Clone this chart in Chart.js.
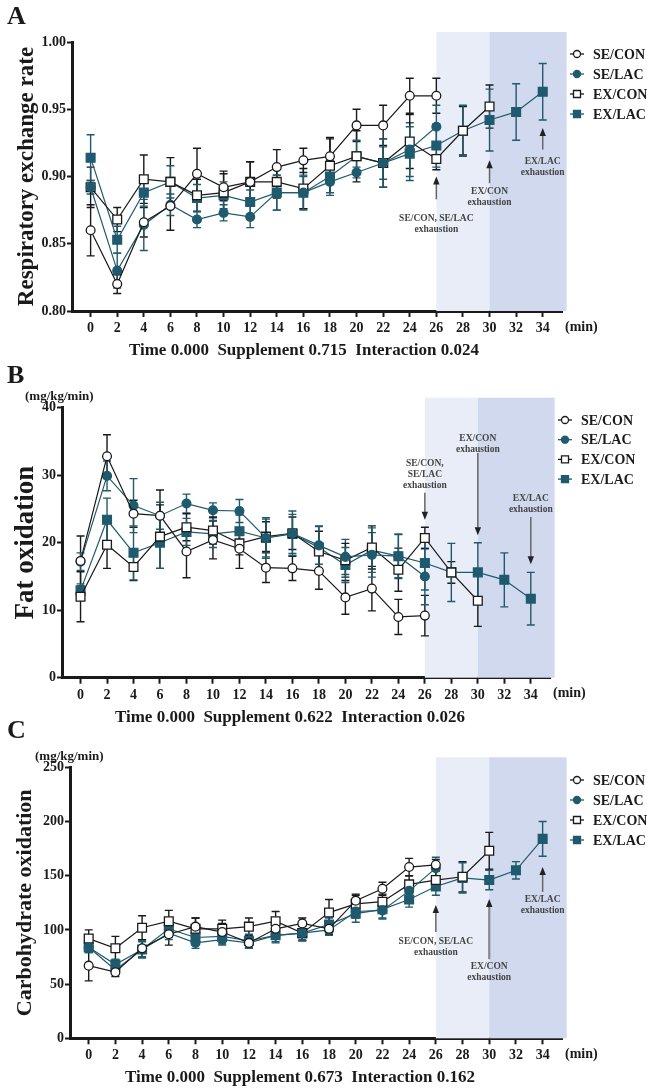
<!DOCTYPE html>
<html>
<head>
<meta charset="utf-8">
<script src="https://cdn.jsdelivr.net/npm/chart.js@4.4.0/dist/chart.umd.min.js"></script>
<style>
  body { margin: 0; background: #fff; width: 647px; height: 1089px; position: relative; overflow: hidden;
         font-family: "Liberation Serif", "Times New Roman", serif; font-weight: bold; color: #1a1a1a; }
  .box { position: absolute; left: 0; width: 647px; }
  .txt { position: absolute; white-space: pre; line-height: 1; }
  .foot { position: absolute; width: 500px; text-align: center; white-space: pre; line-height: 1; font-size: 17px; }
</style>
</head>
<body>
<div class="box" style="top:0;height:340px"><canvas id="chartA" width="647" height="340"></canvas></div>
<div class="box" style="top:340px;height:370px"><canvas id="chartB" width="647" height="370"></canvas></div>
<div class="box" style="top:710px;height:379px"><canvas id="chartC" width="647" height="379"></canvas></div>

<div class="txt" style="left:7px;top:3px;font-size:26px">A</div>
<div class="txt" style="left:7px;top:362px;font-size:26px">B</div>
<div class="txt" style="left:7px;top:717px;font-size:26px">C</div>
<div class="txt" style="left:25px;top:389px;font-size:13px">(mg/kg/min)</div>
<div class="txt" style="left:35px;top:749px;font-size:13px">(mg/kg/min)</div>
<div class="foot" style="left:54px;top:341px">Time 0.000  Supplement 0.715  Interaction 0.024</div>
<div class="foot" style="left:40px;top:708px">Time 0.000  Supplement 0.622  Interaction 0.026</div>
<div class="foot" style="left:50px;top:1068px">Time 0.000  Supplement 0.673  Interaction 0.162</div>

<script>
// time points (min)
var minutes = [0, 2, 4, 6, 8, 10, 12, 14, 16, 18, 20, 22, 24, 26, 28, 30, 32, 34];
var groups = ['SE/CON', 'SE/LAC', 'EX/CON', 'EX/LAC'];

// A - respiratory exchange rate (mean, SE)
var rerTicks = [0.80, 0.85, 0.90, 0.95, 1.00];
var rerSeCon = [0.860, 0.820, 0.866, 0.878, 0.902, 0.892, 0.896, 0.907, 0.912, 0.915, 0.938, 0.938, 0.960, 0.960];
var rerSeConErr = [0.019, 0.007, 0.011, 0.018, 0.019, 0.010, 0.015, 0.013, 0.009, 0.014, 0.012, 0.015, 0.013, 0.013];
var rerSeLac = [0.892, 0.830, 0.864, 0.879, 0.868, 0.873, 0.870, 0.888, 0.888, 0.896, 0.903, 0.910, 0.920, 0.937];
var rerSeLacErr = [0.005, 0.013, 0.019, 0.008, 0.006, 0.006, 0.008, 0.013, 0.012, 0.010, 0.004, 0.012, 0.020, 0.016];
var rerExCon = [0.892, 0.868, 0.898, 0.896, 0.886, 0.888, 0.896, 0.896, 0.891, 0.908, 0.915, 0.910, 0.926, 0.913, 0.934, 0.952];
var rerExConErr = [0.015, 0.009, 0.018, 0.018, 0.012, 0.016, 0.015, 0.012, 0.015, 0.020, 0.019, 0.018, 0.020, 0.008, 0.018, 0.016];
var rerExLac = [0.914, 0.853, 0.888, 0.896, 0.884, 0.886, 0.881, 0.888, 0.888, 0.900, 0.915, 0.910, 0.917, 0.923, 0.934, 0.942, 0.948, 0.963];
var rerExLacErr = [0.017, 0.010, 0.010, 0.012, 0.010, 0.010, 0.009, 0.013, 0.013, 0.012, 0.012, 0.018, 0.020, 0.016, 0.019, 0.023, 0.021, 0.021];

// B - fat oxidation (mg/kg/min)
var fatTicks = [0, 10, 20, 30, 40];
var fatSeCon = [17.3, 32.8, 24.3, 24.0, 18.7, 20.4, 19.1, 16.3, 16.2, 15.8, 11.9, 13.2, 9.0, 9.2];
var fatSeConErr = [3.7, 3.2, 2.0, 3.8, 3.9, 2.8, 2.9, 2.2, 1.8, 2.7, 2.5, 3.3, 2.6, 3.0];
var fatSeLac = [17.2, 29.9, 25.5, 24.0, 25.8, 24.8, 24.7, 20.7, 21.4, 19.6, 17.9, 18.2, 18.0, 15.0];
var fatSeLacErr = [1.3, 2.2, 4.0, 2.0, 1.4, 1.1, 1.7, 3.0, 3.3, 2.8, 2.6, 3.3, 3.3, 4.2];
var fatExCon = [12.0, 19.7, 16.4, 20.9, 22.3, 21.8, 19.9, 20.9, 21.4, 18.7, 17.4, 19.3, 16.0, 20.7, 15.6, 11.4];
var fatExConErr = [3.7, 3.5, 2.0, 4.7, 2.0, 2.0, 1.7, 2.2, 2.4, 3.0, 2.5, 3.2, 3.2, 1.6, 1.6, 3.8];
var fatExLac = [12.9, 23.4, 18.5, 20.0, 21.6, 21.3, 21.7, 20.7, 21.3, 19.3, 16.7, 18.9, 18.0, 17.0, 15.6, 15.6, 14.5, 11.7];
var fatExLacErr = [1.0, 3.2, 4.0, 3.8, 2.0, 2.0, 2.4, 2.8, 2.9, 3.2, 2.6, 3.3, 3.2, 4.0, 4.3, 4.4, 4.0, 3.9];

// C - carbohydrate oxidation (mg/kg/min)
var choTicks = [0, 50, 100, 150, 200, 250];
var choSeCon = [67, 61, 83, 96, 103, 98, 88, 101, 106, 101, 127, 138, 158, 160];
var choSeConErr = [14, 4, 8, 10, 8, 8, 5, 6, 5, 5, 6, 6, 8, 5];
var choSeLac = [84, 63, 82, 97, 88, 91, 88, 95, 97, 100, 117, 118, 136, 157];
var choSeLacErr = [5, 4, 7, 6, 5, 5, 5, 6, 6, 5, 6, 8, 8, 10];
var choExCon = [92, 83, 102, 108, 101, 101, 103, 108, 97, 116, 124, 126, 142, 146, 149, 173];
var choExConErr = [8, 11, 11, 10, 10, 8, 8, 9, 7, 12, 8, 7, 8, 8, 14, 17];
var choExLac = [84, 68, 82, 101, 93, 94, 90, 95, 97, 105, 115, 119, 128, 140, 148, 146, 155, 184];
var choExLacErr = [5, 5, 8, 8, 6, 7, 6, 7, 7, 6, 8, 8, 7, 8, 14, 9, 8, 16];

var teal = '#1f5a6e';
var ink = '#1a1a1a';
var serif = '"Liberation Serif", "Times New Roman", serif';

function toPoints(vals, errs){
  var pts = [];
  for (var i = 0; i < vals.length; i++) {
    if (vals[i] == null) continue;
    pts.push({x: minutes[i], y: vals[i], e: errs[i]});
  }
  return pts;
}

function makeSet(label, vals, errs, color, style, filled){
  return {
    label: label,
    data: toPoints(vals, errs),
    borderColor: color,
    borderWidth: 1.2,
    pointStyle: style,
    pointRadius: style == 'rect' ? 6.2 : 4.4,
    pointBorderWidth: 1.3,
    pointBorderColor: color,
    pointBackgroundColor: filled ? color : '#fff',
    backgroundColor: filled ? color : '#fff',
    tension: 0
  };
}

var extras = {
  id: 'extras',
  beforeDatasetsDraw: function(chart, args, opts){
    var ctx = chart.ctx, xs = chart.scales.x, ys = chart.scales.y, area = chart.chartArea;
    ctx.save();
    // shaded exhaustion windows
    opts.shades.forEach(function(s){
      var x0 = xs.getPixelForValue(s.from), x1 = xs.getPixelForValue(s.to);
      ctx.fillStyle = s.color;
      ctx.fillRect(x0, area.top - 10, x1 - x0, area.bottom - area.top + 10);
    });
    // error bars
    chart.data.datasets.forEach(function(ds){
      ctx.strokeStyle = ds.borderColor;
      ctx.lineWidth = 1.4;
      ds.data.forEach(function(p){
        var x = xs.getPixelForValue(p.x);
        var yt = ys.getPixelForValue(p.y + p.e), yb = ys.getPixelForValue(p.y - p.e);
        ctx.beginPath();
        ctx.moveTo(x, yt); ctx.lineTo(x, yb);
        ctx.moveTo(x - 4, yt); ctx.lineTo(x + 4, yt);
        ctx.moveTo(x - 4, yb); ctx.lineTo(x + 4, yb);
        ctx.stroke();
      });
    });
    ctx.restore();
  },
  afterDraw: function(chart, args, opts){
    var ctx = chart.ctx, xs = chart.scales.x, ys = chart.scales.y, area = chart.chartArea;
    ctx.save();
    // exhaustion arrows + notes
    opts.notes.forEach(function(n){
      var x = xs.getPixelForValue(n.x);
      var yt = ys.getPixelForValue(n.tail), yh = ys.getPixelForValue(n.head);
      var dir = yh < yt ? -1 : 1;
      ctx.strokeStyle = n.shaft || '#666';
      ctx.lineWidth = n.width || 1.5;
      ctx.beginPath(); ctx.moveTo(x, yt); ctx.lineTo(x, yh - dir * 6); ctx.stroke();
      ctx.fillStyle = '#222';
      ctx.beginPath();
      ctx.moveTo(x, yh); ctx.lineTo(x - 3.2, yh - dir * 8); ctx.lineTo(x + 3.2, yh - dir * 8);
      ctx.closePath(); ctx.fill();
      ctx.fillStyle = '#444';
      ctx.font = 'bold 9.5px ' + serif;
      ctx.textAlign = 'center'; ctx.textBaseline = 'middle';
      var ty = ys.getPixelForValue(n.textY);
      n.text.forEach(function(t, i){ ctx.fillText(t, x, ty + i * 11); });
    });
    // (min)
    ctx.fillStyle = ink;
    ctx.font = 'bold 14px ' + serif;
    ctx.textAlign = 'left'; ctx.textBaseline = 'middle';
    ctx.fillText('(min)', area.right + 3, area.bottom + 16);
    // legend
    var L = opts.legend;
    ctx.font = 'bold 14px ' + serif;
    chart.data.datasets.forEach(function(ds, i){
      var cy = L.y + i * L.gap;
      ctx.strokeStyle = ds.borderColor; ctx.lineWidth = 1.3;
      ctx.beginPath(); ctx.moveTo(L.x - 7, cy); ctx.lineTo(L.x + 7, cy); ctx.stroke();
      ctx.fillStyle = ds.pointBackgroundColor;
      ctx.beginPath();
      if (ds.pointStyle == 'rect') ctx.rect(L.x - 3.5, cy - 3.5, 7, 7);
      else ctx.arc(L.x, cy, 3.5, 0, Math.PI * 2);
      ctx.fill(); ctx.stroke();
      ctx.fillStyle = ink;
      ctx.fillText(ds.label, L.x + 16, cy + 1);
    });
    ctx.restore();
  }
};

function drawPanel(id_name, sets, cfg){
  var ctx = document.getElementById(id_name).getContext('2d');
  var myChart = new Chart(ctx, {
    type: 'line',
    plugins: [extras],
    data: {
      datasets: [
        makeSet(groups[0], sets[0], sets[1], ink, 'circle', false),
        makeSet(groups[1], sets[2], sets[3], teal, 'circle', true),
        makeSet(groups[2], sets[4], sets[5], ink, 'rect', false),
        makeSet(groups[3], sets[6], sets[7], teal, 'rect', true)
      ]
    },
    options: {
      responsive: false,
      animation: false,
      layout: { padding: cfg.padding },
      scales: {
        x: {
          type: 'linear',
          min: -1.4,
          max: 35.45,
          afterBuildTicks: function(axis){ axis.ticks = minutes.map(function(v){ return {value: v}; }); },
          afterFit: function(scale){ scale.height = cfg.xHeight; },
          border: { display: true, color: ink, width: 3 },
          grid: { drawOnChartArea: false, drawTicks: true, tickLength: 6, tickWidth: 2, tickColor: ink },
          ticks: { color: ink, padding: 3, maxRotation: 0, font: { family: serif, size: 14, weight: 'bold' } }
        },
        y: {
          min: cfg.ticks[0],
          max: cfg.ticks[cfg.ticks.length - 1],
          afterBuildTicks: function(axis){ axis.ticks = cfg.ticks.map(function(v){ return {value: v}; }); },
          afterFit: function(scale){ scale.width = cfg.yWidth; },
          border: { display: true, color: ink, width: 3 },
          grid: { drawOnChartArea: false, drawTicks: true, tickLength: 5, tickWidth: 2, tickColor: ink },
          ticks: {
            color: ink, padding: 1, font: { family: serif, size: 14, weight: 'bold' },
            callback: function(value){ return cfg.decimals ? Number(value).toFixed(cfg.decimals) : value; }
          },
          title: {
            display: true, text: cfg.title, color: ink,
            padding: { top: cfg.titlePad, bottom: 0 },
            font: { family: serif, size: cfg.titleSize, weight: 'bold' }
          }
        }
      },
      plugins: {
        legend: { display: false },
        tooltip: { enabled: false },
        extras: {
          shades: [{from: 26, to: 30, color: '#e8edf7'}, {from: 30, to: 35.8, color: '#d0d9ee'}],
          notes: cfg.notes,
          legend: cfg.legend
        }
      }
    }
  });
}

drawPanel('chartA',
  [rerSeCon, rerSeConErr, rerSeLac, rerSeLacErr, rerExCon, rerExConErr, rerExLac, rerExLacErr],
  {
    padding: { left: 0, top: 42, right: 85, bottom: 0 }, xHeight: 29, yWidth: 72,
    ticks: rerTicks, decimals: 2, title: 'Respiratory exchange rate', titleSize: 23, titlePad: 13,
    legend: { x: 577, y: 54, gap: 20 },
    notes: [
      { x: 26, tail: 0.883, head: 0.900, text: ['SE/CON, SE/LAC', 'exhaustion'], textY: 0.869 },
      { x: 30, tail: 0.895, head: 0.912, text: ['EX/CON', 'exhaustion'], textY: 0.889 },
      { x: 34, tail: 0.920, head: 0.936, text: ['EX/LAC', 'exhaustion'], textY: 0.911 }
    ]
  });

drawPanel('chartB',
  [fatSeCon, fatSeConErr, fatSeLac, fatSeLacErr, fatExCon, fatExConErr, fatExLac, fatExLacErr],
  {
    padding: { left: 0, top: 67.7, right: 97, bottom: 10.3 }, xHeight: 22, yWidth: 62,
    ticks: fatTicks, decimals: 0, title: 'Fat oxidation', titleSize: 27, titlePad: 10,
    legend: { x: 565, y: 80, gap: 19.7 },
    notes: [
      { x: 26, tail: 27.4, head: 23.4, text: ['SE/CON,', 'SE/LAC', 'exhaustion'], textY: 31.8 },
      { x: 30, tail: 33.3, head: 21.1, text: ['EX/CON', 'exhaustion'], textY: 35.5 },
      { x: 34, tail: 23.8, head: 16.8, text: ['EX/LAC', 'exhaustion'], textY: 26.6 }
    ]
  });

drawPanel('chartC',
  [choSeCon, choSeConErr, choSeLac, choSeLacErr, choExCon, choExConErr, choExLac, choExLacErr],
  {
    padding: { left: 0, top: 57.3, right: 85, bottom: 25.7 }, xHeight: 25, yWidth: 70,
    ticks: choTicks, decimals: 0, title: 'Carbohydrate oxidation', titleSize: 22, titlePad: 12,
    legend: { x: 577, y: 70, gap: 20 },
    notes: [
      { x: 26, tail: 98, head: 123, text: ['SE/CON, SE/LAC', 'exhaustion'], textY: 88.8 },
      { x: 30, tail: 73, head: 128.5, text: ['EX/CON', 'exhaustion'], textY: 65.8, shaft: '#888', width: 2.2 },
      { x: 34, tail: 135, head: 158, text: ['EX/LAC', 'exhaustion'], textY: 127.6 }
    ]
  });
</script>
</body>
</html>
